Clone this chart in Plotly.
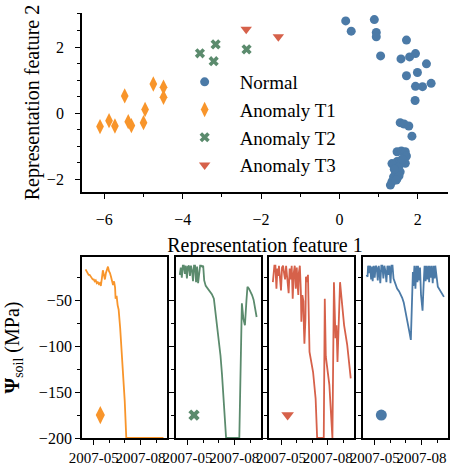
import plotly.graph_objects as go

# --- top panel: 2-D representation of each site-year ---
normal_x = [0.16, 0.30, 0.89, 0.94, 0.94, 1.05, 1.71, 1.57, 1.79, 1.94, 2.22, 1.71, 1.99, 1.94,
            2.12, 2.34, 1.93, 1.55, 1.65, 1.77, 1.85, 1.47, 1.58, 1.68, 1.71, 1.34, 1.47, 1.68,
            1.38, 1.51, 1.43, 1.55, 1.38, 1.47, 1.34, 1.30, 1.60, 1.52, 1.40, 1.45]
normal_y = [2.79, 2.48, 2.83, 2.44, 2.31, 1.73, 2.21, 1.64, 1.70, 1.80, 1.49, 1.13, 1.23, 0.81,
            0.80, 0.90, 0.38, -0.29, -0.33, -0.39, -0.70, -1.17, -1.15, -1.17, -1.30, -1.53, -1.47, -1.52,
            -1.58, -1.63, -1.78, -1.78, -1.93, -1.98, -2.08, -2.18, -1.40, -1.90, -1.70, -2.03]
t1_x = [-6.11, -5.88, -5.73, -5.48, -5.39, -5.31, -5.00, -4.96, -4.75, -4.49, -4.49]
t1_y = [-0.41, -0.23, -0.39, 0.52, -0.26, -0.38, -0.29, 0.11, 0.88, 0.78, 0.48]
t2_x = [-3.56, -3.16, -3.21, -2.37]
t2_y = [1.81, 2.08, 1.57, 1.93]
t3_x = [-2.38, -1.56]
t3_y = [2.54, 2.31]

# --- bottom panels: soil water potential (MPa), one example per class ---
t1_dates = ["04-15", "04-17", "04-19", "04-21", "04-23", "04-25", "04-27", "04-29", "05-01", "05-03",
            "05-05", "05-07", "05-09", "05-11", "05-13", "05-15", "05-17", "05-19", "05-21", "05-23",
            "05-25", "05-27", "05-29", "05-31", "06-02", "06-04", "06-06", "06-08", "06-10", "06-12",
            "06-13", "06-15", "06-17", "06-19", "06-22", "06-24", "06-27", "06-29", "07-01", "07-04",
            "07-20", "08-05", "08-20", "09-05", "09-15"]
t1_psi = [-16, -18, -20, -22, -22, -24, -25, -27, -27, -29,
          -28, -31, -30, -32, -31, -34, -26, -17, -22, -27,
          -20, -16, -13, -18, -20, -24, -30, -33, -29, -36,
          -48, -45, -55, -60, -80, -98, -120, -135, -160, -200,
          -200, -200, -200, -200, -200]

t2_dates = ["04-16", "04-18", "04-20", "04-22", "04-24", "04-26", "04-28", "04-30", "05-02", "05-04",
            "05-06", "05-08", "05-10", "05-12", "05-14", "05-16", "05-18", "05-20", "05-22", "05-24",
            "05-26", "05-28", "05-30", "06-01", "06-03", "06-06", "06-09", "06-12", "06-15", "06-18",
            "06-22", "06-25", "06-28", "07-02", "07-05", "07-08", "07-11", "07-13", "07-16", "07-25",
            "08-04", "08-11", "08-13", "08-15", "08-16", "08-19", "08-22", "08-25", "08-27", "08-30",
            "09-02", "09-05", "09-08", "09-11", "09-14"]
t2_psi = [-22, -14, -25, -12, -12, -21, -12, -26, -13, -12,
          -23, -12, -17, -29, -12, -12, -30, -13, -31, -16,
          -12, -12, -13, -12, -28, -34, -36, -38, -40, -43,
          -48, -62, -78, -92, -110, -131, -155, -171, -200, -200,
          -200, -200, -140, -60, -53, -70, -77, -50, -35, -37,
          -40, -44, -49, -58, -68]

t3_dates = ["04-15", "04-17", "04-18", "04-20", "04-22", "04-24", "04-26", "04-27", "04-29", "05-01",
            "05-03", "05-05", "05-07", "05-09", "05-11", "05-13", "05-14", "05-16", "05-18", "05-20",
            "05-22", "05-24", "05-26", "05-28", "05-30", "06-01", "06-02", "06-04", "06-05", "06-07",
            "06-09", "06-10", "06-12", "06-14", "06-15", "06-16", "06-18", "06-19", "06-21", "06-23",
            "06-26", "06-29", "07-03", "07-08", "07-11", "07-24", "07-26", "07-28", "08-04", "08-10",
            "08-13", "08-16", "08-18", "08-20", "08-25", "08-28", "09-02", "09-08", "09-15"]
t3_psi = [-30, -20, -12, -12, -37, -15, -23, -12, -30, -39,
          -14, -12, -20, -27, -12, -26, -32, -42, -15, -27,
          -12, -48, -20, -12, -37, -14, -28, -44, -20, -12,
          -40, -73, -44, -51, -80, -97, -70, -24, -30, -22,
          -106, -115, -128, -157, -200, -200, -48, -111, -142, -200,
          -30, -91, -77, -117, -30, -48, -77, -98, -135]

normal_dates = ["04-15", "04-17", "04-18", "04-20", "04-22", "04-24", "04-26", "04-27", "04-29", "05-01",
                "05-03", "05-05", "05-07", "05-09", "05-11", "05-12", "05-14", "05-16", "05-18", "05-20",
                "05-22", "05-24", "05-26", "05-28", "05-30", "06-01", "06-03", "06-05", "06-07", "06-09",
                "06-11", "06-14", "06-18", "06-21", "06-24", "06-27", "06-30", "07-04", "07-08", "07-11",
                "07-13", "07-15", "07-16", "07-17", "07-18", "07-20", "07-22", "07-24", "07-25", "07-27",
                "07-29", "07-31", "08-03", "08-05", "08-07", "08-09", "08-10", "08-12", "08-14", "08-16",
                "08-17", "08-19", "08-21", "08-23", "08-25", "08-27", "08-28", "09-02", "09-07", "09-11",
                "09-14"]
normal_psi = [-22, -24, -12, -20, -12, -27, -13, -29, -12, -25,
              -12, -14, -28, -12, -24, -31, -12, -12, -26, -12,
              -18, -30, -12, -22, -12, -31, -12, -12, -26, -30,
              -33, -37, -40, -43, -47, -52, -60, -70, -84, -93,
              -51, -19, -34, -26, -12, -37, -12, -30, -12, -28,
              -14, -44, -61, -34, -12, -29, -12, -27, -12, -30,
              -12, -25, -12, -31, -12, -26, -12, -35, -40, -43,
              -46]

class_names = ["Normal", "Anomaly T1", "Anomaly T2", "Anomaly T3"]
mark_date = "2007-05-14"
mark_psi = -175

blue = "#4b7aa7"
orange = "#f8952b"
green = "#5b8b6d"
red = "#d6614a"
SERIF = "Liberation Serif"

fig = go.Figure()

top = [
    (class_names[0], normal_x, normal_y, blue, "circle", 9),
    (class_names[1], t1_x, t1_y, orange, "diamond-tall", 11),
    (class_names[2], t2_x, t2_y, green, "x", 9),
    (class_names[3], t3_x, t3_y, red, "triangle-down", 10),
]
for name, xs, ys, col, sym, sz in top:
    fig.add_trace(go.Scatter(x=xs, y=ys, mode="markers", name=name,
                             marker=dict(color=col, symbol=sym, size=sz, line=dict(width=0)),
                             xaxis="x", yaxis="y"))

# bottom row order: T1, T2, T3, Normal
bottom = [
    (t1_dates, t1_psi, orange, "diamond-tall", 13),
    (t2_dates, t2_psi, green, "x", 10),
    (t3_dates, t3_psi, red, "triangle-down", 11),
    (normal_dates, normal_psi, blue, "circle", 11),
]
for i, (ds, ps, col, sym, sz) in enumerate(bottom):
    k = str(i + 2)
    fig.add_trace(go.Scatter(x=["2007-" + d for d in ds], y=ps, mode="lines",
                             line=dict(color=col, width=1.8), showlegend=False,
                             xaxis="x" + k, yaxis="y" + k))
    fig.add_trace(go.Scatter(x=[mark_date], y=[mark_psi], mode="markers",
                             marker=dict(color=col, symbol=sym, size=sz, line=dict(width=0)),
                             showlegend=False, xaxis="x" + k, yaxis="y" + k))

W, H = 450, 468
axis_common = dict(showline=True, linecolor="black", linewidth=1.8, showgrid=False, zeroline=False,
                   ticks="outside", ticklen=5, tickwidth=1.3, tickcolor="black", automargin=False)

layout = dict(
    width=W, height=H,
    margin=dict(l=0, r=0, t=0, b=0),
    paper_bgcolor="white", plot_bgcolor="white",
    font=dict(family=SERIF, color="black", size=16),
    legend=dict(x=0.377, y=1 - 63 / H, xanchor="left", yanchor="top", itemwidth=60,
                bgcolor="rgba(0,0,0,0)", font=dict(size=19, family=SERIF)),
    xaxis=dict(axis_common, domain=[82 / W, 448 / W], anchor="y", range=[-6.57, 2.77],
               tick0=0, dtick=2, minor=dict(dtick=1, ticklen=3, tickwidth=1.1, ticks="outside"),
               tickfont=dict(size=16), ticklabelstandoff=7,
               title=dict(text="Representation feature 1", font=dict(size=20), standoff=11)),
    yaxis=dict(axis_common, domain=[1 - 192 / H, 1 - 13 / H], anchor="x", range=[-2.39, 3.03],
               tick0=0, dtick=2, minor=dict(dtick=0.5, ticklen=3, tickwidth=1.1, ticks="outside"),
               tickfont=dict(size=16), ticklabelstandoff=8,
               title=dict(text="Representation feature 2", font=dict(size=20), standoff=2)),
)

lefts = [82, 175.7, 269.3, 363]
for i, l in enumerate(lefts):
    k = str(i + 2)
    layout["xaxis" + k] = dict(axis_common, mirror=True, domain=[l / W, (l + 85) / W], anchor="y" + k,
                               type="date", range=["2007-04-08", "2007-09-22"],
                               tick0="2007-02-01", dtick="M3", tickformat="%Y-%m", tickangle=0,
                               minor=dict(dtick="M1", tick0="2007-01-01", ticklen=3, tickwidth=1.1,
                                          ticks="outside"),
                               tickfont=dict(size=15))
    ya = dict(axis_common, mirror=True, domain=[1 - 438 / H, 1 - 257 / H], anchor="x" + k,
              range=[-200, -2.5], tick0=0, dtick=50,
              minor=dict(dtick=25, ticklen=3, tickwidth=1.1, ticks="outside"),
              tickfont=dict(size=16))
    if i == 0:
        ya["title"] = dict(text="<b>Ψ</b><sub>soil</sub> (MPa)", font=dict(size=20), standoff=14)
    else:
        ya["matches"] = "y2"
        ya["showticklabels"] = False
    layout["yaxis" + k] = ya

fig.update_layout(**layout)
fig.write_html("out.html", config={"displayModeBar": False},
               post_script="document.body.style.margin='0';document.body.style.overflow='hidden';")
